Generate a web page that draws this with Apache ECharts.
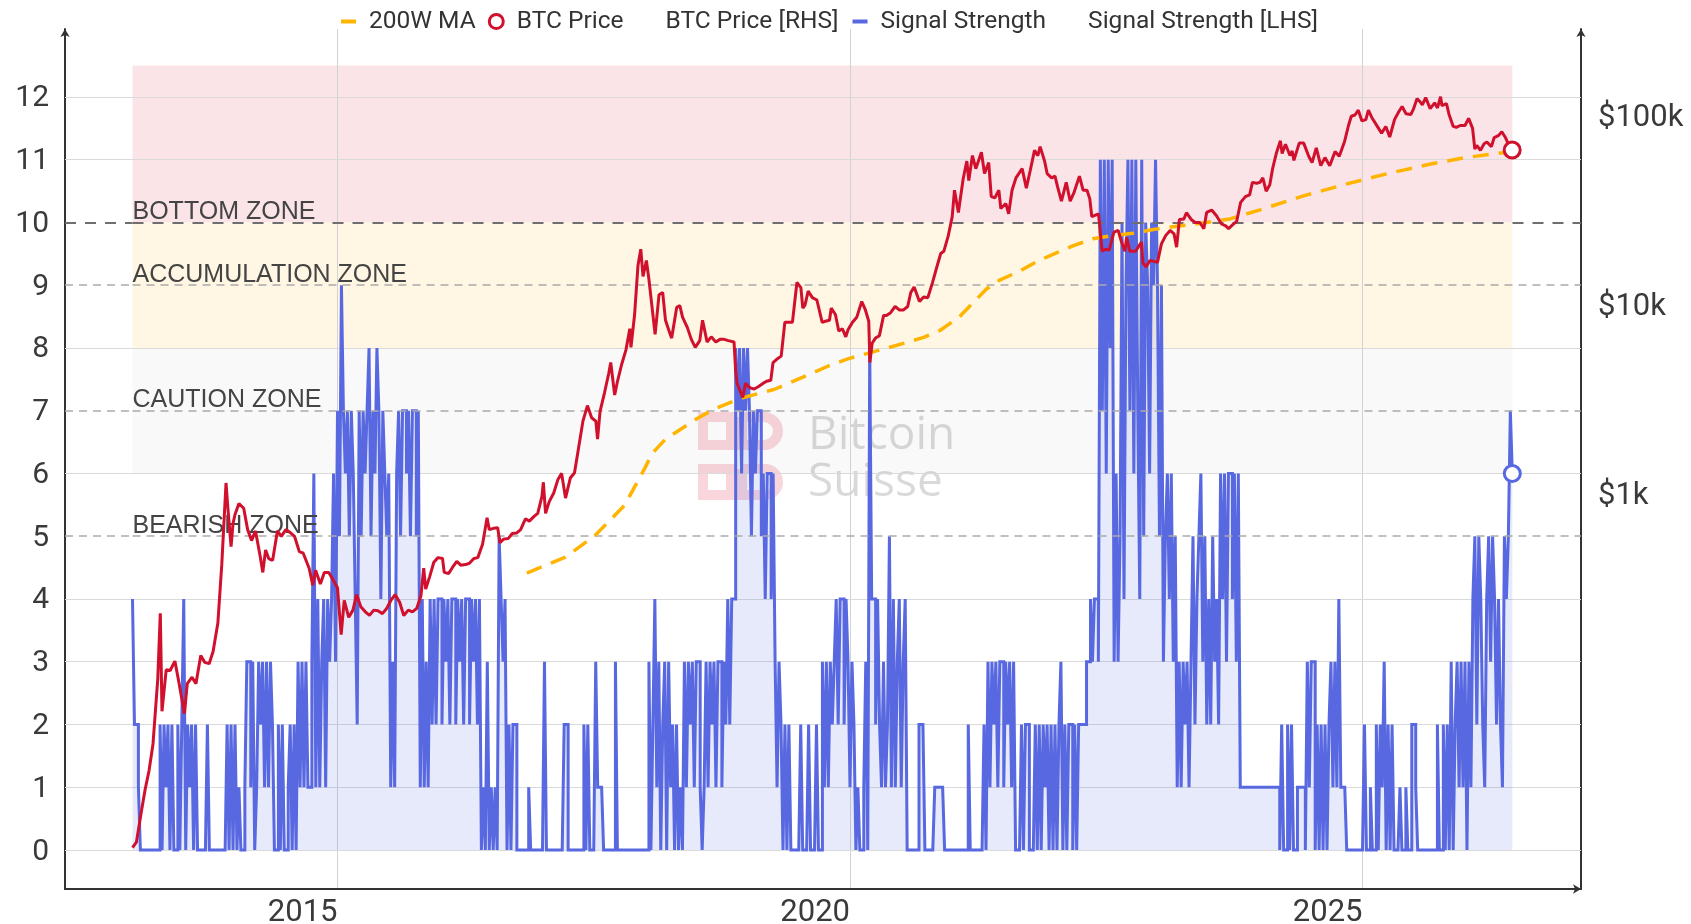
<!DOCTYPE html>
<html>
<head>
<meta charset="utf-8">
<title>Signal Strength vs BTC Price</title>
<style>
  html, body { margin: 0; padding: 0; background: #ffffff; }
  #chart { width: 1691px; height: 924px; }
</style>
<script src="https://cdn.jsdelivr.net/npm/echarts@6/dist/echarts.min.js"></script>
</head>
<body>
<div id="chart"></div>
<script>
// ---------------- data ----------------
// Signal strength, sampled 52 times per calendar year starting 2013-01-01 (one row per year).
const signalStartYear = 2013;
const signalPerYear = 52;
const signal2013 = [4,2,2,1,0,0,0,0,0,0,0,0,0,0,2,0,2,1,2,0,2,0,0,2,0,2,4,0,2,1,2,0,2,0,0,0,0,0,2,0,0,0,0,0,0,0,0,0,2,0,2,0];
const signal2014 = [2,0,1,0,0,1,3,3,1,3,0,1,3,2,3,1,3,1,3,2,0,0,2,0,2,0,0,1,2,0,2,0,3,1,3,1,3,1,1,3,6,1,4,1,3,4,1,4,3,4,6,3];
const signal2015 = [7,5,9,7,6,7,5,7,6,4,2,7,5,7,6,7,8,5,7,6,8,7,4,7,6,5,6,1,3,1,6,7,5,7,7,6,7,5,7,7,5,7,1,4,1,3,1,4,2,4,2,4];
const signal2016 = [4,2,4,3,4,2,4,4,2,4,3,4,2,4,4,2,4,3,4,2,4,0,1,0,3,0,1,0,1,0,5,4,3,4,0,2,0,2,2,0,0,0,0,0,0,1,0,0,0,0,0,0];
const signal2017 = [0,3,0,0,0,0,0,0,0,0,0,2,2,0,0,0,0,0,0,0,0,2,0,2,0,0,0,3,1,1,1,0,0,0,0,0,0,3,0,0,0,0,0,0,0,0,0,0,0,0,0,0];
const signal2018 = [0,0,3,0,2,4,1,3,0,2,3,0,3,1,2,0,2,0,1,0,3,1,3,2,3,1,3,3,1,0,1,3,1,3,2,3,1,3,3,1,3,2,4,2,4,4,8,7,8,6,8,7];
const signal2019 = [8,7,5,7,6,7,7,5,6,4,6,6,4,6,3,1,3,2,0,2,0,2,0,0,0,0,0,2,0,0,0,2,0,0,0,2,0,0,3,1,3,1,3,2,3,4,2,4,4,2,4,3];
const signal2020 = [1,3,2,0,1,0,0,1,3,0,8,4,4,2,4,2,1,3,1,2,5,1,4,1,3,4,1,3,4,0,0,0,0,0,0,2,2,2,0,0,0,0,0,1,1,1,1,1,0,0,0,0];
const signal2021 = [0,0,0,0,0,0,0,0,2,0,0,0,0,0,0,0,2,0,3,1,3,2,3,1,3,3,1,3,2,3,1,3,0,0,0,2,0,2,2,0,0,0,2,0,2,0,2,1,2,0,2,0];
const signal2022 = [2,0,2,3,0,2,0,2,2,0,2,0,2,2,2,2,3,3,4,3,4,4,3,11,7,11,6,11,8,11,3,6,3,5,10,4,9,11,7,11,6,11,7,4,11,5,10,9,6,10,9,11];
const signal2023 = [9,5,9,3,5,6,4,6,3,5,1,3,1,3,2,3,1,3,5,2,4,5,6,3,5,2,4,2,5,3,4,2,6,4,6,3,6,6,4,6,3,6,1,1,1,1,1,1,1,1,1,1];
const signal2024 = [1,1,1,1,1,1,1,1,1,1,0,2,0,0,2,0,2,0,0,1,1,1,1,0,3,1,3,3,0,2,0,2,0,2,0,2,3,1,3,1,4,1,1,1,0,0,0,0,0,0,0,0];
const signal2025 = [0,2,0,0,1,0,0,2,0,2,1,3,0,2,0,2,0,0,0,1,0,0,1,0,0,2,2,1,0,0,0,0,0,0,0,0,0,0,2,0,0,2,0,2,0,3,0,2,3,1,3,1];
const signal2026 = [3,0,3,1,4,5,2,5,4,2,1,4,5,3,5,4,2,4,2,1,5,4,5,7,6];
const signalByYear = [signal2013, signal2014, signal2015, signal2016, signal2017, signal2018, signal2019,
  signal2020, signal2021, signal2022, signal2023, signal2024, signal2025, signal2026];

// BTC price in USD
const btcPrice = [
  ['2013-01-01',13.3],['2013-01-15',14.2],['2013-02-01',20.4],['2013-02-15',27],['2013-03-01',34],['2013-03-15',47],
  ['2013-04-01',104],['2013-04-10',231],['2013-04-16',70],['2013-05-01',116],['2013-05-15',115],['2013-06-01',129],
  ['2013-06-15',100],['2013-07-05',68],['2013-07-15',98],['2013-08-01',106],['2013-08-15',98],['2013-09-01',138],
  ['2013-09-15',127],['2013-10-01',125],['2013-10-15',145],['2013-11-01',205],['2013-11-15',420],['2013-11-30',1130],
  ['2013-12-07',820],['2013-12-18',520],['2013-12-25',690],
  ['2014-01-01',770],['2014-01-15',880],['2014-02-01',830],['2014-02-15',640],['2014-03-01',560],['2014-03-15',630],
  ['2014-04-01',460],['2014-04-10',380],['2014-04-20',500],['2014-05-01',450],['2014-05-15',440],['2014-06-01',630],
  ['2014-06-15',590],['2014-07-01',640],['2014-07-15',620],['2014-08-01',590],['2014-08-18',490],['2014-09-01',480],
  ['2014-09-22',400],['2014-10-05',325],['2014-10-15',390],['2014-11-01',330],['2014-11-15',380],['2014-12-01',380],
  ['2014-12-15',350],
  ['2015-01-01',315],['2015-01-14',178],['2015-01-25',270],['2015-02-10',220],['2015-02-25',240],['2015-03-10',290],
  ['2015-03-25',250],['2015-04-10',235],['2015-04-25',225],['2015-05-10',240],['2015-05-25',238],['2015-06-10',230],
  ['2015-06-25',245],['2015-07-10',270],['2015-07-25',290],['2015-08-10',265],['2015-08-25',225],['2015-09-10',240],
  ['2015-09-25',235],['2015-10-10',245],['2015-10-25',285],['2015-11-04',400],['2015-11-11',310],['2015-11-25',360],
  ['2015-12-10',430],['2015-12-25',455],
  ['2016-01-10',450],['2016-01-16',380],['2016-02-01',375],['2016-02-15',405],['2016-03-01',435],['2016-03-15',415],
  ['2016-04-01',418],['2016-04-15',425],['2016-05-01',450],['2016-05-15',455],['2016-06-01',535],['2016-06-17',740],
  ['2016-06-25',640],['2016-07-10',650],['2016-07-25',655],['2016-08-02',545],['2016-08-15',570],['2016-09-01',575],
  ['2016-09-15',610],['2016-10-01',615],['2016-10-15',640],['2016-11-01',730],['2016-11-15',710],['2016-12-01',750],
  ['2016-12-15',780],['2016-12-30',960],
  ['2017-01-04',1140],['2017-01-12',780],['2017-01-25',900],['2017-02-10',1000],['2017-02-25',1180],['2017-03-10',1270],
  ['2017-03-24',940],['2017-04-10',1200],['2017-04-25',1280],['2017-05-10',1750],['2017-05-25',2400],['2017-06-10',2900],
  ['2017-06-25',2500],['2017-07-10',2400],['2017-07-16',1930],['2017-07-25',2700],['2017-08-10',3400],['2017-08-25',4300],
  ['2017-09-01',4900],['2017-09-15',3300],['2017-09-25',3900],['2017-10-10',4800],['2017-10-25',5700],['2017-11-08',7400],
  ['2017-11-12',5900],['2017-11-25',8800],['2017-12-07',16000],['2017-12-17',19500],['2017-12-25',14000],
  ['2018-01-06',17000],['2018-01-15',13500],['2018-02-06',6900],['2018-02-20',11200],['2018-03-05',11500],['2018-03-15',8200],
  ['2018-04-01',6900],['2018-04-06',6600],['2018-04-24',9600],['2018-05-05',9800],['2018-05-15',8500],['2018-06-01',7500],
  ['2018-06-15',6500],['2018-06-29',5900],['2018-07-15',6400],['2018-07-25',8200],['2018-08-10',6300],['2018-08-25',6700],
  ['2018-09-10',6300],['2018-09-25',6500],['2018-10-10',6500],['2018-10-25',6400],['2018-11-14',6300],['2018-11-20',4400],
  ['2018-11-25',3800],['2018-12-15',3200],['2018-12-25',3800],
  ['2019-01-10',3600],['2019-01-25',3550],['2019-02-08',3650],['2019-02-25',3800],['2019-03-10',3900],['2019-03-25',3950],
  ['2019-04-02',4900],['2019-04-15',5100],['2019-05-01',5300],['2019-05-14',8000],['2019-05-25',8000],['2019-06-10',8000],
  ['2019-06-26',13000],['2019-07-10',12200],['2019-07-17',9500],['2019-07-25',9900],['2019-08-05',11700],['2019-08-20',10800],
  ['2019-09-05',10500],['2019-09-24',8000],['2019-10-05',8100],['2019-10-20',8200],['2019-10-26',9500],['2019-11-10',8800],
  ['2019-11-22',7200],['2019-12-05',7400],['2019-12-17',6700],['2019-12-25',7300],
  ['2020-01-10',8000],['2020-01-25',8500],['2020-02-12',10300],['2020-02-25',9300],['2020-03-08',8100],['2020-03-12',4900],
  ['2020-03-20',6200],['2020-04-01',6600],['2020-04-15',6800],['2020-04-30',8700],['2020-05-10',8700],['2020-05-25',9000],
  ['2020-06-10',9700],['2020-06-25',9300],['2020-07-10',9300],['2020-07-25',9700],['2020-08-05',11500],['2020-08-17',12300],
  ['2020-09-05',10300],['2020-09-20',10900],['2020-10-05',10800],['2020-10-21',12900],['2020-11-05',15500],['2020-11-20',18500],
  ['2020-12-01',19000],['2020-12-17',23000],['2020-12-31',29000],
  ['2021-01-08',40000],['2021-01-22',30500],['2021-02-08',46000],['2021-02-21',57000],['2021-02-28',45000],['2021-03-13',61000],
  ['2021-03-25',52000],['2021-04-14',63500],['2021-04-25',49000],['2021-05-10',56000],['2021-05-19',37000],['2021-06-01',36500],
  ['2021-06-15',40000],['2021-06-22',32000],['2021-07-10',34000],['2021-07-20',30000],['2021-08-01',40000],['2021-08-15',46500],
  ['2021-09-06',52000],['2021-09-21',41000],['2021-10-05',51000],['2021-10-20',65000],['2021-11-01',61000],['2021-11-09',68000],
  ['2021-11-25',57000],['2021-12-04',49000],['2021-12-20',46500],
  ['2022-01-01',47500],['2022-01-10',41800],['2022-01-24',35000],['2022-02-10',44000],['2022-02-24',35000],['2022-03-10',39000],
  ['2022-03-29',47500],['2022-04-11',40000],['2022-04-25',40000],['2022-05-05',36000],['2022-05-12',29000],['2022-05-25',29500],
  ['2022-06-05',30000],['2022-06-18',19000],['2022-06-30',19500],['2022-07-13',19300],['2022-07-30',24000],['2022-08-14',24500],
  ['2022-08-25',21500],['2022-09-07',19000],['2022-09-13',22500],['2022-09-25',19000],['2022-10-15',19000],['2022-10-30',20600],
  ['2022-11-05',21300],['2022-11-10',16500],['2022-11-21',15700],['2022-12-05',17000],['2022-12-20',16800],
  ['2023-01-01',16600],['2023-01-15',20800],['2023-01-30',23000],['2023-02-15',24500],['2023-03-01',23500],['2023-03-10',20000],
  ['2023-03-20',28000],['2023-04-05',28200],['2023-04-14',30400],['2023-05-01',28000],['2023-05-15',27000],['2023-06-01',27000],
  ['2023-06-15',25000],['2023-06-25',30500],['2023-07-13',31400],['2023-07-30',29300],['2023-08-17',26500],['2023-09-01',25900],
  ['2023-09-11',25000],['2023-09-25',26200],['2023-10-10',27400],['2023-10-24',34500],['2023-11-10',37000],['2023-11-25',37800],
  ['2023-12-05',44000],['2023-12-20',43500],
  ['2024-01-01',44000],['2024-01-11',46500],['2024-01-23',39500],['2024-02-05',42700],['2024-02-15',52000],['2024-02-28',62500],
  ['2024-03-14',73000],['2024-03-20',62500],['2024-04-01',70000],['2024-04-17',61000],['2024-04-25',64500],['2024-05-01',57500],
  ['2024-05-20',71000],['2024-06-05',71000],['2024-06-24',60000],['2024-07-05',56000],['2024-07-20',67000],['2024-08-05',54000],
  ['2024-08-20',59500],['2024-09-06',53900],['2024-09-25',64000],['2024-10-10',60500],['2024-10-29',72500],['2024-11-12',88000],
  ['2024-11-22',98500],['2024-12-05',100000],['2024-12-17',106000],['2024-12-30',93000],
  ['2025-01-13',94500],['2025-01-22',106000],['2025-02-03',97000],['2025-02-25',86000],['2025-03-10',80000],['2025-03-25',87000],
  ['2025-04-08',76500],['2025-04-25',94500],['2025-05-10',104000],['2025-05-22',111000],['2025-06-05',101500],['2025-06-22',100500],
  ['2025-07-01',107000],['2025-07-14',122000],['2025-07-25',117500],['2025-08-02',113000],['2025-08-14',123500],['2025-08-30',108000],
  ['2025-09-15',116000],['2025-09-25',109000],['2025-10-06',125000],['2025-10-11',112000],['2025-10-27',115000],['2025-11-05',101000],
  ['2025-11-20',87000],['2025-12-01',86000],['2025-12-15',88000],
  ['2026-01-01',88000],['2026-01-14',96000],['2026-01-28',85000],['2026-02-05',66000],['2026-02-12',69000],['2026-02-25',65000],
  ['2026-03-10',70500],['2026-03-20',72000],['2026-04-05',68000],['2026-04-15',76000],['2026-05-01',78000],['2026-05-12',81500],
  ['2026-05-25',76000],['2026-06-05',70000],['2026-06-18',65300]
];

// 200-week moving average of BTC price, USD
const ma200w = [
  ['2016-11-06',377],['2017-03-24',458],['2017-07-06',594],['2017-10-20',859],['2018-01-01',1358],['2018-01-26',1616],
  ['2018-03-14',1923],['2018-07-09',2495],['2018-09-06',2786],['2018-12-09',3176],['2019-04-08',3539],['2019-08-04',4209],
  ['2019-10-16',4698],['2019-12-24',5127],['2020-07-16',6220],['2020-09-20',6660],['2020-11-17',7240],['2021-01-26',8560],
  ['2021-05-01',11960],['2021-06-18',13390],['2021-08-30',14960],['2021-10-27',16740],['2022-01-08',18720],['2022-03-08',20360],
  ['2022-05-16',22150],['2022-07-28',23030],['2022-10-05',23700],['2022-12-17',24790],['2023-03-11',25770],['2023-05-30',26620],
  ['2023-09-16',28200],['2024-01-01',31500],['2024-06-01',37200],['2024-11-01',43000],['2025-04-01',49000],['2025-09-01',55000],
  ['2026-01-01',59500],['2026-06-18',64000]
];

const yearTicks = [2015, 2020, 2025];
const signalTicks = [0, 1, 2, 3, 4, 5, 6, 7, 8, 9, 10, 11, 12];
const priceTicks = [1000, 10000, 100000];
const priceTickText = ['$1k', '$10k', '$100k'];
const zoneBands = [[10, 12.5], [8, 10], [6, 8]];
const zoneLines = [['BOTTOM ZONE', 10], ['ACCUMULATION ZONE', 9], ['CAUTION ZONE', 7], ['BEARISH ZONE', 5]];

// ---------------- styling ----------------
const zoneColors = ['#fbe4e8', '#fff6e3', '#f9f9f9'];
const blue = '#5868e0';
const red = '#d0102c';
const amber = '#ffb400';
const axisColor = '#333333';
const labelColor = '#3a3a3a';
const logoColor = 'rgba(220,50,75,0.2)';

// axis ranges
const xMin = 2012.3415, xMax = 2027.1317;
const yMin = -0.6215, yMax = 13.0835;
const pMin = 8.03, pMax = 285100;

function toYear(s) {
  const [y, m, d] = s.split('-').map(Number);
  const a = Date.UTC(y, 0, 1), b = Date.UTC(y + 1, 0, 1);
  return y + (Date.UTC(y, m - 1, d) - a) / (b - a);
}

const signalPoints = [];
signalByYear.forEach((row, r) => {
  row.forEach((v, j) => signalPoints.push([signalStartYear + r + j / signalPerYear, v]));
});
// each reading holds until the next one: add the corner point so the line steps
const signalSteps = [];
signalPoints.forEach((p, i) => {
  signalSteps.push(p);
  const next = signalPoints[i + 1];
  if (next) signalSteps.push([next[0], p[1]]);
});
const pricePoints = btcPrice.map(([d, v]) => [toYear(d), v]);
const maPoints = ma200w.map(([d, v]) => [toYear(d), v]);

const firstT = signalPoints[0][0];
const lastSignal = signalPoints[signalPoints.length - 1];
const lastPrice = pricePoints[pricePoints.length - 1];

const dashedValues = zoneLines.map(z => z[1]);

// zone shading
const zoneAreas = zoneBands.map(([lo, hi], i) => [
  { xAxis: firstT, yAxis: lo, itemStyle: { color: zoneColors[i] } },
  { xAxis: lastSignal[0], yAxis: hi }
]);

// solid horizontal grid lines
const gridLines = signalTicks.filter(v => !dashedValues.includes(v)).map(v => ({ yAxis: v }));

// dashed zone boundaries with their captions
const zoneLineData = [];
zoneLines.forEach(([text, v]) => {
  const strong = v === 10;
  const ls = strong
    ? { color: '#6f6f6f', width: 2.2, type: [11, 9] }
    : { color: '#ababab', width: 1.6, type: [8, 6] };
  zoneLineData.push([{ coord: [xMin, v], lineStyle: ls }, { coord: [firstT, v] }]);
  zoneLineData.push([
    { coord: [firstT, v], lineStyle: ls,
      label: { show: true, formatter: text, position: 'insideStartTop', distance: [0, -2] } },
    { coord: [xMax, v] }
  ]);
});

const dashIcon = 'path://M0 0M31 14M8 5H23V9H8Z';

const chart = echarts.init(document.getElementById('chart'), null, { renderer: 'canvas' });

const option = {
  animation: false,
  backgroundColor: '#ffffff',
  textStyle: { fontFamily: 'Roboto' },
  legend: {
    left: 333,
    top: 9,
    padding: 0,
    itemGap: 6,
    itemWidth: 31,
    itemHeight: 14,
    selectedMode: false,
    // the moving-average label gets a little extra trailing room
    formatter: name => (name === '200W MA' ? name + ' ' : name),
    textStyle: { fontSize: 24.5, color: '#333333', fontFamily: 'Roboto' },
    data: [
      { name: '200W MA', icon: dashIcon, itemStyle: { color: amber, borderWidth: 0 } },
      { name: 'BTC Price', icon: 'circle', itemStyle: { color: '#ffffff', borderColor: red, borderWidth: 3 } },
      { name: 'BTC Price [RHS]', icon: 'none' },
      { name: 'Signal Strength', icon: dashIcon, itemStyle: { color: blue, borderWidth: 0 } },
      { name: 'Signal Strength [LHS]', icon: 'none' }
    ]
  },
  grid: { left: 65, right: 110, top: 29, bottom: 35, containLabel: false, outerBoundsMode: 'none' },
  xAxis: {
    type: 'value',
    min: xMin,
    max: xMax,
    minInterval: 5,
    maxInterval: 5,
    z: 1,
    axisLine: { show: true, onZero: false, symbol: ['none', 'arrow'], symbolSize: [7, 8],
      lineStyle: { color: axisColor, width: 2 } },
    axisTick: { show: false },
    splitLine: { show: true, lineStyle: { color: '#d2d2d2', width: 1 } },
    axisLabel: {
      fontSize: 31, color: labelColor, margin: 9, fontFamily: 'Roboto', align: 'right',
      showMinLabel: false, showMaxLabel: false,
      formatter: v => {
        const r = Math.round(v);
        return (Math.abs(v - r) < 1e-6 && yearTicks.includes(r)) ? String(r) : '';
      }
    }
  },
  yAxis: [
    {
      type: 'value',
      min: yMin,
      max: yMax,
      minInterval: 1,
      maxInterval: 1,
      z: 1,
      axisLine: { show: true, onZero: false, symbol: ['none', 'arrow'], symbolSize: [7, 8],
        lineStyle: { color: axisColor, width: 2 } },
      axisTick: { show: false },
      splitLine: { show: false },
      axisLabel: {
        fontSize: 30, color: labelColor, margin: 16, fontFamily: 'Roboto',
        rich: { t: { fontSize: 30, color: labelColor, fontFamily: 'Roboto', padding: [4, 0, 0, 0] } },
        formatter: v => {
          const r = Math.round(v);
          return (Math.abs(v - r) < 1e-6 && signalTicks.includes(r)) ? '{t|' + r + '}' : '';
        }
      }
    },
    {
      type: 'log',
      logBase: 10,
      min: pMin,
      max: pMax,
      position: 'right',
      z: 1,
      axisLine: { show: true, onZero: false, symbol: ['none', 'arrow'], symbolSize: [7, 8],
        lineStyle: { color: axisColor, width: 2 } },
      axisTick: { show: false },
      splitLine: { show: false },
      axisLabel: {
        fontSize: 31, color: labelColor, margin: 17, fontFamily: 'Roboto',
        rich: { t: { fontSize: 31, color: labelColor, fontFamily: 'Roboto', padding: [6, 0, 0, 0] } },
        formatter: v => {
          const i = priceTicks.findIndex(t => Math.abs(Math.log10(v) - Math.log10(t)) < 1e-6);
          return i >= 0 ? '{t|' + priceTickText[i] + '}' : '';
        }
      }
    }
  ],
  graphic: [
    // Bitcoin Suisse watermark
    { type: 'rect', z: 1, silent: true, shape: { x: 703, y: 417, width: 28, height: 28 },
      style: { fill: 'none', stroke: logoColor, lineWidth: 10 } },
    { type: 'rect', z: 1, silent: true, shape: { x: 742, y: 417, width: 36, height: 28, r: [0, 14, 14, 0] },
      style: { fill: 'none', stroke: logoColor, lineWidth: 10 } },
    { type: 'rect', z: 1, silent: true, shape: { x: 703, y: 469, width: 28, height: 26 },
      style: { fill: 'none', stroke: logoColor, lineWidth: 10 } },
    { type: 'rect', z: 1, silent: true, shape: { x: 742, y: 469, width: 36, height: 26, r: [0, 13, 13, 0] },
      style: { fill: 'none', stroke: logoColor, lineWidth: 10 } },
    { type: 'text', z: 1, silent: true,
      style: { text: 'Bitcoin', x: 808, y: 436, verticalAlign: 'middle',
        font: '500 46px "Open Sans"', fill: 'rgba(0,0,0,0.15)' } },
    { type: 'text', z: 1, silent: true,
      style: { text: 'Suisse', x: 808, y: 483, verticalAlign: 'middle',
        font: '500 46px "Open Sans"', fill: 'rgba(0,0,0,0.15)' } }
  ],
  series: [
    {
      name: 'Signal Strength [LHS]',
      type: 'line',
      xAxisIndex: 0,
      yAxisIndex: 0,
      z: 2,
      showSymbol: false,
      symbol: 'none',
      data: signalSteps,
      itemStyle: { color: blue },
      lineStyle: { color: blue, width: 3, join: 'miter' },
      areaStyle: { color: 'rgba(88,104,224,0.2)' },
      markArea: { silent: true, z: 0, data: zoneAreas, label: { show: false } },
      markLine: {
        silent: true, z: 1.2, symbol: ['none', 'none'],
        label: { show: false },
        lineStyle: { color: '#dadada', width: 1.2, type: 'solid' },
        data: gridLines
      }
    },
    {
      name: '200W MA',
      type: 'line',
      yAxisIndex: 1,
      z: 3,
      showSymbol: false,
      symbol: 'none',
      data: maPoints,
      itemStyle: { color: amber },
      lineStyle: { color: amber, width: 3.5, type: [16, 10] }
    },
    {
      name: 'BTC Price [RHS]',
      type: 'line',
      yAxisIndex: 1,
      z: 4,
      showSymbol: false,
      symbol: 'none',
      data: pricePoints,
      itemStyle: { color: red },
      lineStyle: { color: red, width: 3 }
    },
    {
      name: 'BTC Price',
      type: 'scatter',
      yAxisIndex: 1,
      z: 5,
      symbol: 'circle',
      symbolSize: 16,
      data: [lastPrice],
      itemStyle: { color: '#ffffff', borderColor: red, borderWidth: 3, opacity: 1 }
    },
    {
      name: 'Signal Strength',
      type: 'scatter',
      yAxisIndex: 0,
      z: 5,
      symbol: 'circle',
      symbolSize: 16,
      data: [lastSignal],
      itemStyle: { color: '#ffffff', borderColor: blue, borderWidth: 3, opacity: 1 },
      markLine: {
        silent: true, z: 2.5, symbol: ['none', 'none'],
        label: { show: false, color: '#444444', fontSize: 25, fontFamily: 'Liberation Sans' },
        data: zoneLineData
      }
    }
  ]
};

chart.setOption(option);
</script>
</body>
</html>
